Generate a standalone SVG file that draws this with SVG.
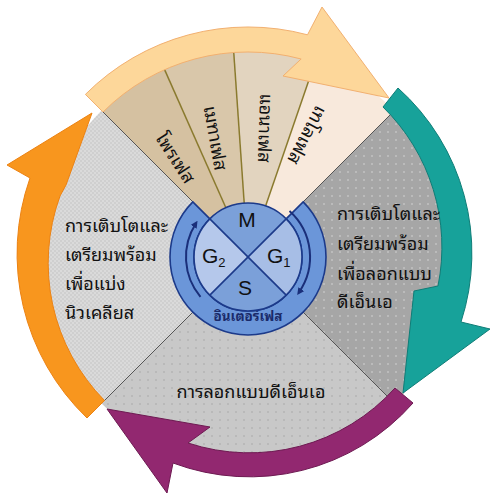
<svg xmlns="http://www.w3.org/2000/svg" width="500" height="497" viewBox="0 0 500 497">
<defs>
<style>
.thai{font-family:"Noto Sans Thai Looped","Noto Serif Thai","Garuda","Loma","Norasi","Noto Sans Thai","Noto Sans","DejaVu Sans",sans-serif;fill:#111}
.lab{font-size:18px}
.ph{font-size:18px}
.q{font-family:"Liberation Sans",Arial,sans-serif;font-size:21px;fill:#111}
.sub{font-family:"Liberation Sans",Arial,sans-serif;font-size:13px;fill:#111}
.div{stroke:#8a7a2e;stroke-width:1.5;fill:none}
.edge{stroke:#555;stroke-width:1;fill:none}
.qline{stroke:#1c3a8a;stroke-width:1.6}
</style>
<pattern id="pLeft" width="4" height="4" patternUnits="userSpaceOnUse"><rect width="4" height="4" fill="#dadada"/><rect width="2" height="2" fill="#cfcfcf"/><rect x="2" y="2" width="2" height="2" fill="#cfcfcf"/></pattern>
<pattern id="pRight" width="8" height="8" patternUnits="userSpaceOnUse"><rect width="8" height="8" fill="#a6a6a6"/><circle cx="4" cy="4" r="1" fill="#c2c2c2"/></pattern>
<pattern id="pBottom" width="8" height="8" patternUnits="userSpaceOnUse"><rect width="8" height="8" fill="#c8c8c8"/><circle cx="4" cy="4" r="0.9" fill="#b2b2b2"/></pattern>
<marker id="ah" viewBox="0 0 10 10" refX="6" refY="5" markerWidth="7" markerHeight="7" orient="auto" markerUnits="userSpaceOnUse"><path d="M0,0 L10,5 L0,10 z" fill="#1a2f7a"/></marker>
</defs>
<rect width="500" height="497" fill="#ffffff"/>

<g id="sectors">
<path d="M248,257 L394.4,110.6 A207,207 0 0 1 394.4,403.4 Z" fill="url(#pRight)"/>
<path d="M248,257 L394.4,403.4 A207,207 0 0 1 101.6,403.4 Z" fill="url(#pBottom)"/>
<path d="M248,257 L101.6,403.4 A207,207 0 0 1 101.6,110.6 Z" fill="url(#pLeft)"/>
<path d="M248,257 L101.6,110.6 A207,207 0 0 1 163.8,67.9 Z" fill="#d5c1a1"/>
<path d="M248,257 L163.8,67.9 A207,207 0 0 1 233.6,50.5 Z" fill="#d9c7aa"/>
<path d="M248,257 L233.6,50.5 A207,207 0 0 1 315.4,61.3 Z" fill="#e2d4bf"/>
<path d="M248,257 L315.4,61.3 A207,207 0 0 1 394.4,110.6 Z" fill="#f8e9dc"/>
<line class="div" x1="226" y1="208" x2="163.8" y2="67.9"/>
<line class="div" x1="244.2" y1="203" x2="233.6" y2="50.5"/>
<line class="div" x1="265.6" y1="206" x2="315.4" y2="61.3"/>
<line class="edge" x1="248" y1="257" x2="101.6" y2="110.6"/>
<line class="edge" x1="248" y1="257" x2="394.4" y2="110.6"/>
<line class="edge" x1="248" y1="257" x2="394.4" y2="403.4"/>
<line class="edge" x1="248" y1="257" x2="101.6" y2="403.4"/>
</g>

<g id="connectors">
<path id="arrow-orange" d="M87,418 A228,228 0 0 1 30,178 L7,165 L92,113 L66,185 L60,196 A196,196 0 0 0 104.5,400.5 Z" fill="#f8961e" stroke="#ec8212" stroke-width="1"/>
<path id="arrow-cream" d="M85.4,94.4 A230,230 0 0 1 307.5,34.8 L322,7 L389,98 L283,76 L301.1,59 A205,205 0 0 0 103,112 Z" fill="#fdd79a" stroke="#f2b070" stroke-width="1"/>
<path id="arrow-teal" d="M398,88 A222,222 0 0 1 461,322 L490,329 L403,393 L414,291 L438,286 A196,196 0 0 0 383,107 Z" fill="#17a29a" stroke="#0f7d77" stroke-width="1"/>
<path id="arrow-purple" d="M413,403 A218,218 0 0 1 173,463 L167,493 L107,409 L210,427 L188,443 A196,196 0 0 0 395,388 Z" fill="#922870" stroke="#6e1a52" stroke-width="1"/>
</g>

<g id="node-interphase-ring">
<path d="M303.15,201.85 A78,78 0 1 1 192.85,201.85 L209.82,218.82 A54,54 0 1 0 286.18,218.82 Z" fill="#6b96d9" stroke="#1c3a8a" stroke-width="1.6"/>
<path d="M289.5,210.9 A62,62 0 0 1 298.8,292.6" fill="none" stroke="#1a2f7a" stroke-width="2" marker-end="url(#ah)"/>
<path d="M200.5,296.9 A62,62 0 0 1 196,223.2" fill="none" stroke="#1a2f7a" stroke-width="2" marker-end="url(#ah)"/>
<text x="248" y="321" text-anchor="middle" class="thai" style="font-size:13.5px;font-weight:bold;fill:#1a2a6a">อินเตอร์เฟส</text>
</g>

<g id="node-cell-cycle-core">
<path d="M248,257 L209.82,218.82 A54,54 0 0 1 286.18,218.82 Z" fill="#7ba0d9"/>
<path d="M248,257 L286.18,218.82 A54,54 0 0 1 286.18,295.18 Z" fill="#a7bee6"/>
<path d="M248,257 L286.18,295.18 A54,54 0 0 1 209.82,295.18 Z" fill="#7ba0d9"/>
<path d="M248,257 L209.82,295.18 A54,54 0 0 1 209.82,218.82 Z" fill="#b5c8eb"/>
<line class="qline" x1="209.82" y1="218.82" x2="286.18" y2="295.18"/>
<line class="qline" x1="286.18" y1="218.82" x2="209.82" y2="295.18"/>
<circle cx="248" cy="257" r="54" fill="none" stroke="#1c3a8a" stroke-width="1.6"/>
<text x="247" y="227" text-anchor="middle" class="q">M</text>
<text x="202" y="263" class="q">G<tspan class="sub" dy="4">2</tspan></text>
<text x="267" y="263" class="q">G<tspan class="sub" dy="4">1</tspan></text>
<text x="245" y="295" text-anchor="middle" class="q">S</text>
</g>

<g id="node-mitosis-labels">
<text class="thai ph" text-anchor="middle" transform="translate(175,158) rotate(57)" y="6">โพรเฟส</text>
<text class="thai ph" text-anchor="middle" transform="translate(215,138) rotate(80)" y="6">เมทาเฟส</text>
<text class="thai ph" text-anchor="middle" transform="translate(265,128) rotate(92)" y="6">แอนาเฟส</text>
<text class="thai ph" text-anchor="middle" transform="translate(307,135) rotate(118)" y="6">เทโลเฟส</text>
</g>

<g id="node-g2">
<text class="thai lab" x="65" y="232">การเติบโตและ</text>
<text class="thai lab" x="65" y="261">เตรียมพร้อม</text>
<text class="thai lab" x="65" y="290">เพื่อแบ่ง</text>
<text class="thai lab" x="65" y="319">นิวเคลียส</text>
</g>

<g id="node-g1">
<text class="thai lab" x="337" y="220">การเติบโตและ</text>
<text class="thai lab" x="337" y="250">เตรียมพร้อม</text>
<text class="thai lab" x="337" y="280">เพื่อลอกแบบ</text>
<text class="thai lab" x="337" y="308">ดีเอ็นเอ</text>
</g>

<g id="node-s">
<text class="thai lab" x="251" y="398" text-anchor="middle">การลอกแบบดีเอ็นเอ</text>
</g>
</svg>
